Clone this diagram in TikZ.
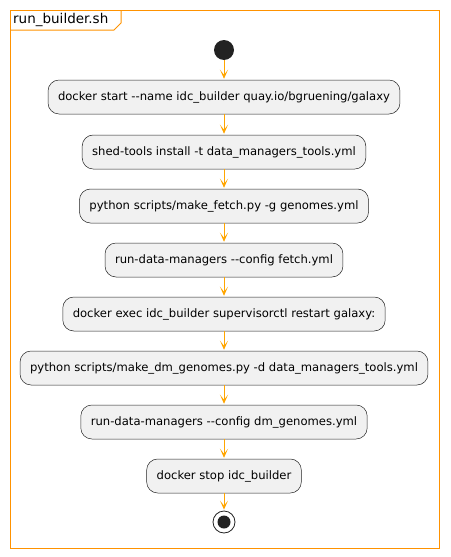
\documentclass[tikz,border=0pt]{standalone}
\usepackage{fontspec}
\setmainfont{DejaVu Sans}
\usetikzlibrary{arrows.meta,positioning}
\definecolor{frameorange}{HTML}{FF9200}
\definecolor{arroworange}{HTML}{FFA500}
\definecolor{actfill}{HTML}{F1F1F1}
\definecolor{dotcol}{HTML}{222222}

\begin{document}
\begin{tikzpicture}[x=1pt,y=-1pt,>={Stealth[length=9pt,width=8pt,inset=5pt]},font=\fontsize{11.6}{14}\selectfont,
 act/.style={draw=dotcol,line width=0.5pt,fill=actfill,rounded corners=11pt,inner xsep=10pt,minimum height=34pt},
 flow/.style={->,arroworange,line width=0.8pt,shorten >=1pt}]
\useasboundingbox (0,0) rectangle (450,557);
% frame and tab
\draw[frameorange,line width=1pt] (10,10) rectangle (439,548);
\draw[frameorange,line width=1pt] (10,30) -- (114,30) -- (121,23) -- (121,10);
\node[anchor=west,font=\fontsize{13.5}{16}\selectfont,inner sep=0pt] (title) at (13,20) {run\_builder.sh};
% activities
\node[circle,fill=dotcol,minimum size=20pt,inner sep=0pt] (start) at (224,50) {};
\node[act] (a1) at (224,97) {docker start -{}-name idc\_builder quay.io/bgruening/galaxy};
\node[act] (a2) at (224,152) {shed-tools install -t data\_managers\_tools.yml};
\node[act] (a3) at (224,206) {python scripts/make\_fetch.py -g genomes.yml};
\node[act] (a4) at (224,260) {run-data-managers -{}-config fetch.yml};
\node[act] (a5) at (224,314) {docker exec idc\_builder supervisorctl restart galaxy:};
\node[act] (a6) at (224,368) {python scripts/make\_dm\_genomes.py -d data\_managers\_tools.yml};
\node[act] (a7) at (224,422) {run-data-managers -{}-config dm\_genomes.yml};
\node[act] (a8) at (224,476) {docker stop idc\_builder};
\node[circle,draw=dotcol,line width=0.8pt,fill=white,minimum size=22pt,inner sep=0pt] (stop) at (224,522) {};
\fill[dotcol] (stop.center) circle (6.5pt);
% connectors
\draw[flow] (start) -- (a1);
\draw[flow] (a1) -- (a2);
\draw[flow] (a2) -- (a3);
\draw[flow] (a3) -- (a4);
\draw[flow] (a4) -- (a5);
\draw[flow] (a5) -- (a6);
\draw[flow] (a6) -- (a7);
\draw[flow] (a7) -- (a8);
\draw[flow] (a8) -- (stop);
\end{tikzpicture}
\end{document}
